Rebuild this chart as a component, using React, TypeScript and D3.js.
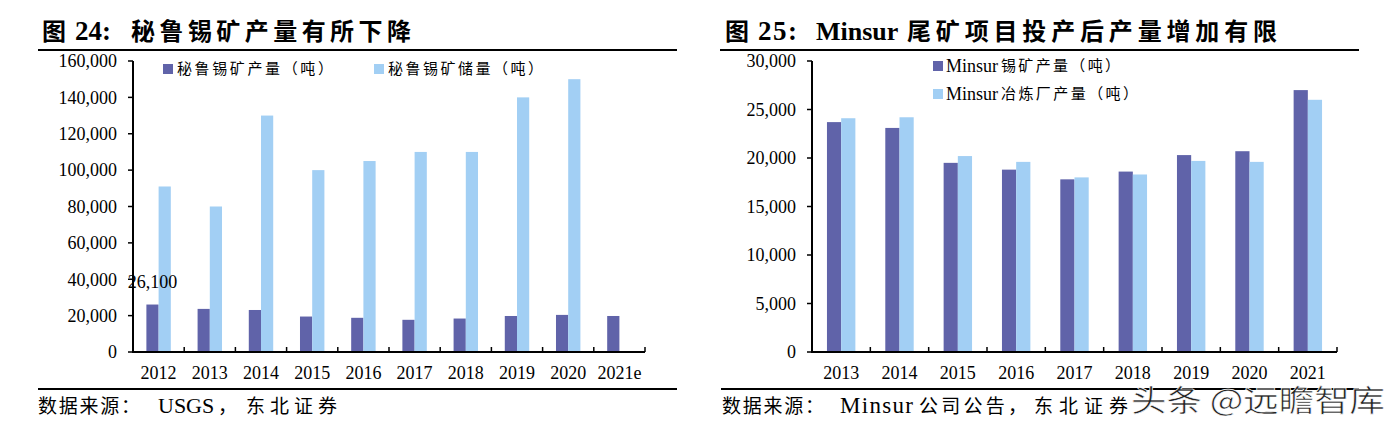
import React from "react";
import * as d3 from "d3";

// ---- Data ----
const peruYears = ["2012", "2013", "2014", "2015", "2016", "2017", "2018", "2019", "2020", "2021e"];
const peruOutput = [26100, 23700, 23100, 19500, 18800, 17700, 18400, 19800, 20400, 19800];
const peruReserves: (number | null)[] = [91000, 80000, 130000, 100000, 105000, 110000, 110000, 140000, 150000, null];
const peruTicks = [0, 20000, 40000, 60000, 80000, 100000, 120000, 140000, 160000];
const peruSeriesNames = ["秘鲁锡矿产量（吨）", "秘鲁锡矿储量（吨）"];

const minsurYears = ["2013", "2014", "2015", "2016", "2017", "2018", "2019", "2020", "2021"];
const minsurMine = [23700, 23100, 19500, 18800, 17800, 18600, 20300, 20700, 27000];
const minsurSmelter = [24100, 24200, 20200, 19600, 18000, 18300, 19700, 19600, 26000];
const minsurTicks = [0, 5000, 10000, 15000, 20000, 25000, 30000];
const minsurSeriesLatin = ["Minsur", "Minsur"];
const minsurSeriesCJK = ["锡矿产量（吨）", "冶炼厂产量（吨）"];

const COLORS = ["#6063A9", "#A2CFF4"];
const SERIF = "'Liberation Serif', 'Times New Roman', 'Noto Sans CJK SC', serif";
const CJK = "'Noto Sans CJK SC', serif";
const fmt = d3.format(",");

type PanelProps = {
  years: string[];
  series: (number | null)[][];
  ticks: number[];
  x0: number;
  x1: number;
  groupFrac: number;
  labels?: { i: number; s: number; text: string }[];
};

function Panel({ years, series, ticks, x0, x1, groupFrac, labels }: PanelProps) {
  const yTop = 61;
  const yBot = 352;
  const y = d3.scaleLinear().domain([0, ticks[ticks.length - 1]]).range([yBot, yTop]);
  const x = d3.scaleBand().domain(years).range([x0, x1]).paddingInner(0).paddingOuter(0);
  const bw = x.bandwidth();
  const gw = bw * groupFrac;
  const xs = d3.scaleBand().domain(series.map((_, i) => String(i))).range([(bw - gw) / 2, (bw + gw) / 2]);
  const boundaries = years.map((yr) => (x(yr) as number) + bw);
  return (
    <g>
      {series.map((vals, s) =>
        vals.map((v, i) =>
          v == null ? null : (
            <rect
              key={`b${s}-${i}`}
              x={(x(years[i]) as number) + (xs(String(s)) as number)}
              y={y(v)}
              width={xs.bandwidth()}
              height={yBot - y(v)}
              fill={COLORS[s]}
            />
          )
        )
      )}
      {/* y axis */}
      <line x1={x0} x2={x0} y1={yTop} y2={yBot + 1} stroke="#000" strokeWidth={2} />
      {ticks.map((t) => (
        <g key={`yt${t}`}>
          <line x1={x0 - 5} x2={x0} y1={y(t)} y2={y(t)} stroke="#000" strokeWidth={1.5} />
          <text x={x0 - 16} y={y(t)} dy="0.35em" textAnchor="end" fontFamily={SERIF} fontSize={18} fill="#000">
            {fmt(t)}
          </text>
        </g>
      ))}
      {/* x axis */}
      <line x1={x0} x2={x1} y1={yBot} y2={yBot} stroke="#000" strokeWidth={2} />
      {boundaries.map((bx, i) => (
        <line key={`xt${i}`} x1={bx} x2={bx} y1={yBot - 5} y2={yBot} stroke="#000" strokeWidth={1.5} />
      ))}
      {years.map((yr) => (
        <text
          key={`xl${yr}`}
          x={(x(yr) as number) + bw / 2}
          y={379}
          textAnchor="middle"
          fontFamily={SERIF}
          fontSize={18}
          fill="#000"
        >
          {yr}
        </text>
      ))}
      {labels &&
        labels.map((l) => {
          const v = series[l.s][l.i] as number;
          return (
            <text
              key={`dl${l.i}`}
              x={(x(years[l.i]) as number) + (xs(String(l.s)) as number) + xs.bandwidth() / 2}
              y={y(v) - 17}
              textAnchor="middle"
              fontFamily={SERIF}
              fontSize={18}
              fill="#000"
            >
              {l.text}
            </text>
          );
        })}
    </g>
  );
}

function Swatch({ x, y, color }: { x: number; y: number; color: string }) {
  return <rect x={x} y={y - 5} width={10} height={10} fill={color} />;
}

export default function App() {
  return (
    <svg
      width={1399}
      height={430}
      viewBox="0 0 1399 430"
      style={{ position: "absolute", left: 0, top: 0, display: "block", background: "#fff" }}
    >
      <rect width={1399} height={430} fill="#fff" />
      {/* Titles */}
      <g fontWeight="bold" fill="#000">
        <text x={42} y={40} fontFamily={CJK} fontSize={24}>图</text>
        <text x={75} y={40} fontFamily={SERIF} fontSize={27} textLength={36} lengthAdjust="spacing">24:</text>
        <text x={131} y={40} fontFamily={CJK} fontSize={24} textLength={280} lengthAdjust="spacing">
          秘鲁锡矿产量有所下降
        </text>
        <text x={725} y={40} fontFamily={CJK} fontSize={24}>图</text>
        <text x={758} y={40} fontFamily={SERIF} fontSize={27} textLength={39} lengthAdjust="spacing">25:</text>
        <text x={816} y={40} fontFamily={SERIF} fontSize={26}>Minsur</text>
        <text x={907} y={40} fontFamily={CJK} fontSize={24} textLength={370} lengthAdjust="spacing">
          尾矿项目投产后产量增加有限
        </text>
      </g>
      <line x1={38} x2={677} y1={50} y2={50} stroke="#000" strokeWidth={2} />
      <line x1={720} x2={1359} y1={50} y2={50} stroke="#000" strokeWidth={2} />

      <Panel
        years={peruYears}
        series={[peruOutput, peruReserves]}
        ticks={peruTicks}
        x0={133}
        x1={645}
        groupFrac={0.477}
        labels={[{ i: 0, s: 0, text: "26,100" }]}
      />
      <Panel
        years={minsurYears}
        series={[minsurMine, minsurSmelter]}
        ticks={minsurTicks}
        x0={812}
        x1={1337}
        groupFrac={0.487}
      />

      {/* Legends */}
      <Swatch x={163} y={69} color={COLORS[0]} />
      <text x={177} y={69} dy="0.36em" fontFamily={CJK} fontSize={15} textLength={156} lengthAdjust="spacing">
        {peruSeriesNames[0]}
      </text>
      <Swatch x={374} y={69} color={COLORS[1]} />
      <text x={388} y={69} dy="0.36em" fontFamily={CJK} fontSize={15} textLength={155} lengthAdjust="spacing">
        {peruSeriesNames[1]}
      </text>
      {[66, 94].map((ly, i) => (
        <g key={`lg${i}`}>
          <Swatch x={933} y={ly} color={COLORS[i]} />
          <text x={946} y={ly} dy="0.36em" fontFamily={SERIF} fontSize={18}>
            {minsurSeriesLatin[i]}
          </text>
          <text
            x={1001}
            y={ly}
            dy="0.36em"
            fontFamily={CJK}
            fontSize={15}
            textLength={i === 0 ? 119 : 137}
            lengthAdjust="spacing"
          >
            {minsurSeriesCJK[i]}
          </text>
        </g>
      ))}

      {/* Bottom rules and sources */}
      <line x1={38} x2={677} y1={389} y2={389} stroke="#000" strokeWidth={2} />
      <line x1={721} x2={1359} y1={389} y2={389} stroke="#000" strokeWidth={2} />
      <g fill="#000">
        <text x={38} y={413} fontFamily={CJK} fontSize={19} textLength={102} lengthAdjust="spacing">数据来源：</text>
        <text x={158} y={413} fontFamily={SERIF} fontSize={22}>USGS</text>
        <text x={218} y={413} fontFamily={CJK} fontSize={19}>，</text>
        <text x={246} y={413} fontFamily={CJK} fontSize={19} textLength={91} lengthAdjust="spacing">东北证券</text>

        <text x={722} y={413} fontFamily={CJK} fontSize={19} textLength={102} lengthAdjust="spacing">数据来源：</text>
        <text x={840} y={413} fontFamily={SERIF} fontSize={23} textLength={73} lengthAdjust="spacing">Minsur</text>
        <text x={919} y={413} fontFamily={CJK} fontSize={19} textLength={108} lengthAdjust="spacing">公司公告，</text>
        <text x={1034} y={413} fontFamily={CJK} fontSize={19} textLength={94} lengthAdjust="spacing">东北证券</text>
      </g>

      {/* Watermark */}
      <text
        x={1131}
        y={411}
        fontFamily="'Noto Sans CJK SC', sans-serif"
        fontSize={30}
        fill="#222"
        stroke="#fff"
        strokeWidth={0.6}
        textLength={254}
        lengthAdjust="spacingAndGlyphs"
      >
        头条 @远瞻智库
      </text>
    </svg>
  );
}
